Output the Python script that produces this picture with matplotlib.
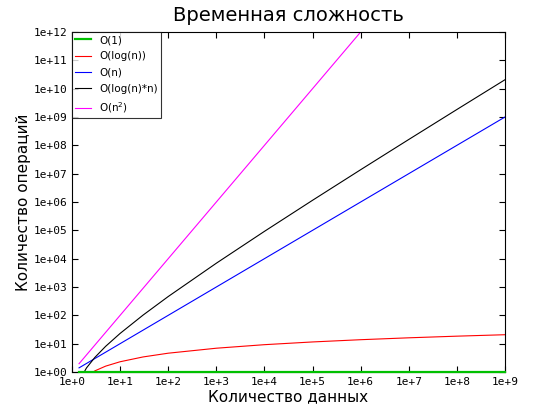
import matplotlib
matplotlib.use("Agg")
import matplotlib.pyplot as plt
from matplotlib.ticker import FixedLocator, FixedFormatter, NullLocator

x_vals = [1.4, 2, 3, 5, 10, 30, 100, 1e3, 1e4, 1e5, 1e6, 1e7, 1e8, 1e9]
o1 = [1, 1, 1, 1, 1, 1, 1, 1, 1, 1, 1, 1, 1, 1]
ologn = [0.34, 0.69, 1.10, 1.61, 2.30, 3.40, 4.61, 6.91, 9.21, 11.5, 13.8, 16.1, 18.4, 20.7]
on = [1.4, 2, 3, 5, 10, 30, 100, 1e3, 1e4, 1e5, 1e6, 1e7, 1e8, 1e9]
onlogn = [0.47, 1.39, 3.30, 8.05, 23.0, 102, 461, 6.91e3, 9.21e4, 1.15e6, 1.38e7, 1.61e8, 1.84e9, 2.07e10]
on2 = [1.96, 4, 9, 25, 100, 900, 1e4, 1e6, 1e8, 1e10, 1e12, 1e14, 1e16, 1e18]

labels = ["O(1)", "O(log(n))", "O(n)", "O(log(n)*n)", "O(n$^2$)"]
colors = ["#00c000", "#ff0000", "#0000ff", "#000000", "#ff00ff"]
widths = [1.6, 0.8, 0.8, 0.8, 0.8]
series = [o1, ologn, on, onlogn, on2]

xticks = [10**i for i in range(10)]
xlabels = ["1e+0"] + [f"1e+{i}" for i in range(1, 10)]
yticks = [10**i for i in range(13)]
ylabels = [f"1e+{i:02d}" for i in range(13)]

plt.rcParams['font.family'] = ['DejaVu Sans Mono']
fig = plt.figure(figsize=(5.39, 4.12), dpi=100)
ax = fig.add_axes([72/539, 40/412, 433/539, 340/412])
for s, l, c, w in zip(series, labels, colors, widths):
    ax.plot(x_vals, s, color=c, lw=w, label=l, clip_on=(l != "O(1)"), zorder=3 if l == "O(1)" else 2)
ax.set_xscale('log'); ax.set_yscale('log')
ax.set_xlim(1, 1e9); ax.set_ylim(1, 1e12)
ax.xaxis.set_major_locator(FixedLocator(xticks)); ax.xaxis.set_major_formatter(FixedFormatter(xlabels))
ax.yaxis.set_major_locator(FixedLocator(yticks)); ax.yaxis.set_major_formatter(FixedFormatter(ylabels))
ax.xaxis.set_minor_locator(NullLocator()); ax.yaxis.set_minor_locator(NullLocator())
ax.tick_params(direction='in', top=True, right=True, labelsize=8, length=4)
ax.set_title("Временная сложность", fontsize=14, family='DejaVu Sans', pad=8)
ax.set_xlabel("Количество данных", fontsize=11, family='DejaVu Sans', labelpad=2)
ax.set_ylabel("Количество операций", fontsize=11, family='DejaVu Sans', labelpad=2)
leg = ax.legend(loc='upper left', prop={'family': 'DejaVu Sans', 'size': 7.5},
                fancybox=False, edgecolor='black', borderaxespad=0, handlelength=1.5,
                labelspacing=0.6, borderpad=0.3)
leg.get_frame().set_linewidth(0.8)
fig.savefig("out.png", dpi=100)
